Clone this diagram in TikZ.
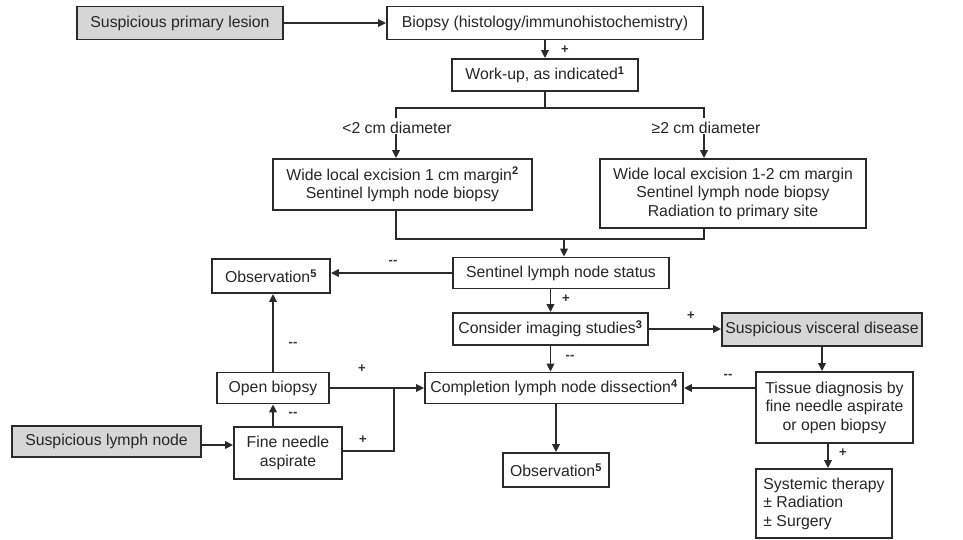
\documentclass[tikz,border=0pt]{standalone}
\usepackage{fontspec}
\setmainfont{Liberation Sans}
\usetikzlibrary{arrows.meta,calc}
\definecolor{ln}{HTML}{2A2A2A}
\definecolor{gfill}{HTML}{D6D6D6}
\newcommand{\sups}[1]{\textsuperscript{\textbf{#1}}}
\begin{document}
\begin{tikzpicture}[x=1pt,y=-1pt,
  font=\fontsize{15.8}{18.5}\selectfont,
  box/.style={draw=ln,line width=1.8pt,fill=white,inner sep=0pt,align=center,text=black!85},
  gbox/.style={box,fill=gfill},
  arr/.style={draw=ln,line width=1.8pt,-{Triangle[length=8pt,width=7.5pt]}},
  ln/.style={draw=ln,line width=1.8pt},
  lbl/.style={inner sep=0pt,text=black!85},
  sg/.style={inner sep=0pt,font=\fontsize{13}{13}\selectfont\bfseries,text=black!80}]
\useasboundingbox (0,0) rectangle (963,539);
% nodes
\node[gbox,minimum width=206pt,minimum height=33pt] (lesion) at (180,23) {Suspicious primary lesion};
\node[box,minimum width=316pt,minimum height=33pt] (biopsy) at (545,23) {Biopsy (histology/immunohistochemistry)};
\node[box,minimum width=186pt,minimum height=32pt] (workup) at (545,75) {Work-up, as indicated\sups{1}};
\node[lbl] (lt) at (397,128) {<2 cm diameter};
\node[lbl] (rt) at (706,128) {≥2 cm diameter};
\node[box,minimum width=259pt,minimum height=51pt] (leftbox) at (402.5,184.5) {Wide local excision 1 cm margin\sups{2}\\Sentinel lymph node biopsy};
\node[box,minimum width=266pt,minimum height=69pt] (rightbox) at (733,193.5) {Wide local excision 1-2 cm margin\\Sentinel lymph node biopsy\\Radiation to primary site};
\node[box,minimum width=216pt,minimum height=31pt] (status) at (561,273) {Sentinel lymph node status};
\node[box,minimum width=118pt,minimum height=34pt] (obs1) at (271,276) {Observation\sups{5}};
\node[box,minimum width=195pt,minimum height=32pt] (imaging) at (550.5,329) {Consider imaging studies\sups{3}};
\node[gbox,minimum width=200pt,minimum height=33pt] (visceral) at (822,329.5) {Suspicious visceral disease};
\node[box,minimum width=157pt,minimum height=71pt] (tissue) at (834.5,407.5) {Tissue diagnosis by\\fine needle aspirate\\or open biopsy};
\node[box,minimum width=258pt,minimum height=31pt] (completion) at (554,388) {Completion lymph node dissection\sups{4}};
\node[box,minimum width=106pt,minimum height=34pt] (obs2) at (556,470) {Observation\sups{5}};
\node[box,minimum width=136pt,minimum height=69pt,align=left] (systemic) at (824,503.5) {Systemic therapy\\± Radiation\\± Surgery};
\node[box,minimum width=112pt,minimum height=31pt] (openb) at (273,388) {Open biopsy};
\node[box,minimum width=108pt,minimum height=52pt] (fna) at (288,453) {Fine needle\\aspirate};
\node[gbox,minimum width=189pt,minimum height=31pt] (sln) at (106.5,441.5) {Suspicious lymph node};
% coordinates
\coordinate (sp) at (545,108);
\coordinate (tl) at (396,118);
\coordinate (tr) at (704,118);
\coordinate (m) at (564,239);
\coordinate (j) at (394,388);
% connectors
\draw[arr] (lesion.east) -- (biopsy.west);
\draw[arr] (biopsy.south) -- (workup.north);
\draw[ln] (workup.south) -- (sp);
\draw[ln] (tl) |- (sp) -| (tr);
\draw[arr] (tl |- lt.south) -- (tl |- leftbox.north);
\draw[arr] (tr |- rt.south) -- (tr |- rightbox.north);
\draw[ln] (tl |- leftbox.south) |- (m) -| (tr |- rightbox.south);
\draw[arr] (m) -- (m |- status.north);
\draw[arr] (status.west) -- (status.west -| obs1.east);
\draw[arr] (imaging.north |- status.south) -- (imaging.north);
\draw[arr] (imaging.east) -- (imaging.east -| visceral.west);
\draw[arr] (visceral.south) -- (visceral.south |- tissue.north);
\draw[arr] (tissue.west |- completion.east) -- (completion.east);
\draw[arr] (imaging.south) -- (imaging.south |- completion.north);
\draw[arr] (obs2.north |- completion.south) -- (obs2.north);
\draw[arr] ([xshift=4pt]systemic.north |- tissue.south) -- ([xshift=4pt]systemic.north);
\draw[arr] (sln.east |- 0,445) -- (fna.west |- 0,445);
\draw[arr] (openb.south |- fna.north) -- (openb.south);
\draw[arr] (openb.north) -- (openb.north |- obs1.south);
\draw[arr] (openb.east) -- (completion.west);
\draw[ln] (fna.east |- 0,451) -| (j);
% signs
\node[sg] (s1) at (565,50) {+};
\node[sg] (s2) at (393,262) {-{}-};
\node[sg] (s3) at (566,299) {+};
\node[sg] (s4) at (691,316) {+};
\node[sg] (s5) at (570,357) {-{}-};
\node[sg] (s6) at (728,376) {-{}-};
\node[sg] (s7) at (843,453) {+};
\node[sg] (s8) at (293,344) {-{}-};
\node[sg] (s9) at (293,414) {-{}-};
\node[sg] (s10) at (362,369) {+};
\node[sg] (s11) at (363,440) {+};
\end{tikzpicture}
\end{document}
